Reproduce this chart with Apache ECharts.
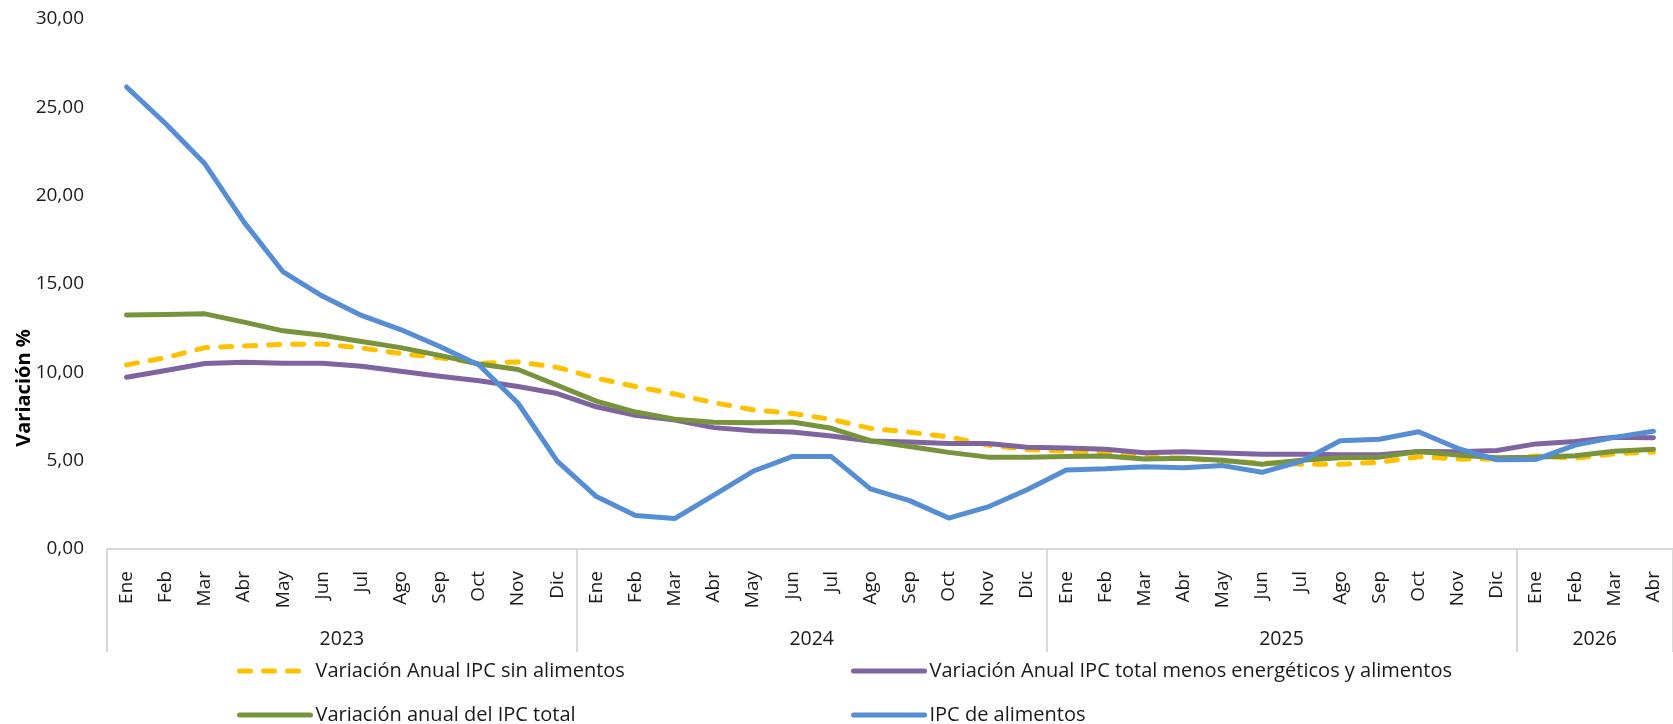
<!DOCTYPE html>
<html>
<head>
<meta charset="utf-8">
<script src="https://cdn.jsdelivr.net/npm/echarts@6/dist/echarts.min.js"></script>
<style>
html,body{margin:0;padding:0;background:#fff;}
#chart{width:1673px;height:724px;}
</style>
</head>
<body>
<div id="chart"></div>
<script>
// ---- data ----
const months = ['Ene','Feb','Mar','Abr','May','Jun','Jul','Ago','Sep','Oct','Nov','Dic',
  'Ene','Feb','Mar','Abr','May','Jun','Jul','Ago','Sep','Oct','Nov','Dic',
  'Ene','Feb','Mar','Abr','May','Jun','Jul','Ago','Sep','Oct','Nov','Dic',
  'Ene','Feb','Mar','Abr'];
const years = ['2023','2024','2025','2026'];
const monthsPerYear = [12, 12, 12, 4];
const yTicks = [0, 5, 10, 15, 20, 25, 30];

const seriesNames = [
  'Variación Anual IPC sin alimentos',
  'Variación Anual IPC total menos energéticos y alimentos',
  'Variación anual del IPC total',
  'IPC de alimentos'
];

const sinAlimentos = [10.42, 10.83, 11.40, 11.49, 11.59, 11.60, 11.38, 11.07, 10.83, 10.51, 10.59, 10.28,
  9.67, 9.20, 8.77, 8.28, 7.88, 7.67, 7.34, 6.83, 6.61, 6.35, 5.88, 5.63,
  5.53, 5.45, 5.20, 5.14, 4.96, 4.88, 4.80, 4.80, 4.91, 5.22, 5.10, 5.10,
  5.26, 5.14, 5.39, 5.49];
const menosEnergAlim = [9.72, 10.10, 10.50, 10.57, 10.52, 10.51, 10.34, 10.06, 9.78, 9.52, 9.20, 8.80,
  8.05, 7.57, 7.30, 6.87, 6.69, 6.62, 6.40, 6.11, 6.05, 5.97, 5.97, 5.76,
  5.72, 5.65, 5.45, 5.50, 5.44, 5.37, 5.37, 5.34, 5.34, 5.52, 5.50, 5.58,
  5.95, 6.08, 6.32, 6.30];
const ipcTotal = [13.24, 13.28, 13.31, 12.84, 12.35, 12.10, 11.75, 11.40, 10.96, 10.47, 10.16, 9.27,
  8.37, 7.75, 7.35, 7.17, 7.15, 7.19, 6.83, 6.13, 5.80, 5.47, 5.20, 5.20,
  5.23, 5.26, 5.10, 5.14, 5.02, 4.80, 5.02, 5.16, 5.20, 5.52, 5.32, 5.17,
  5.20, 5.28, 5.53, 5.65];
const ipcAlimentos = [26.15, 24.07, 21.80, 18.50, 15.68, 14.32, 13.22, 12.42, 11.46, 10.42, 8.25, 4.97,
  2.97, 1.89, 1.72, 3.05, 4.40, 5.23, 5.23, 3.40, 2.74, 1.75, 2.38, 3.35,
  4.47, 4.54, 4.66, 4.60, 4.72, 4.34, 4.96, 6.13, 6.21, 6.64, 5.70, 5.05,
  5.07, 5.88, 6.32, 6.67];

// ---- derived group positions ----
const boundaries = [0];
const centers = [];
monthsPerYear.forEach(function (n) {
  const start = boundaries[boundaries.length - 1];
  centers.push(start + n / 2);
  boundaries.push(start + n);
});
const totalMonths = boundaries[boundaries.length - 1];

const FONT = '"Open Sans", "Noto Sans", sans-serif';
const colors = ['#FFC000', '#8064A2', '#77933C', '#558ED5'];
const dataSets = [sinAlimentos, menosEnergAlim, ipcTotal, ipcAlimentos];

const chart = echarts.init(document.getElementById('chart'), null, {renderer: 'canvas'});

const series = dataSets.map(function (d, i) {
  return {
    name: seriesNames[i],
    type: 'line',
    data: d,
    xAxisIndex: 0,
    yAxisIndex: 0,
    symbol: 'none',
    smooth: false,
    z: 2 + i,
    lineStyle: {
      color: colors[i],
      width: 5,
      type: i === 0 ? [11, 13] : 'solid',
      cap: 'round',
      join: 'round'
    },
    itemStyle: {color: colors[i]},
    emphasis: {disabled: true}
  };
});

// legend slots: [series index, left, top]
const legendSlots = [[0, 237, 661], [1, 851, 661], [2, 237, 705], [3, 851, 705]];
const legends = legendSlots.map(function (s) {
  return {
    data: [seriesNames[s[0]]],
    orient: 'horizontal',
    left: s[1],
    top: s[2],
    padding: 0,
    itemWidth: 71,
    itemHeight: 14,
    selectedMode: false,
    itemStyle: {opacity: 0, borderWidth: 0},
    lineStyle: {width: 5, cap: 'round'},
    textStyle: {fontSize: 20, color: '#1a1a1a', fontFamily: FONT}
  };
});

const option = {
  animation: false,
  backgroundColor: '#fff',
  textStyle: {fontFamily: FONT},
  grid: {left: 107, right: 0, top: 19, bottom: 175, containLabel: false},
  xAxis: [
    {
      type: 'category',
      data: months,
      boundaryGap: true,
      position: 'bottom',
      offset: 0,
      axisLine: {show: true, lineStyle: {color: '#d9d9d9', width: 2}},
      axisTick: {show: false},
      axisLabel: {
        interval: 0,
        rotate: 90,
        margin: 22,
        fontSize: 19,
        color: '#1a1a1a',
        fontFamily: FONT
      },
      splitLine: {show: false}
    },
    {
      type: 'value',
      min: 0,
      max: totalMonths,
      position: 'bottom',
      offset: 0,
      axisLine: {show: false},
      axisTick: {
        show: true,
        customValues: boundaries,
        length: 103,
        lineStyle: {color: '#d9d9d9', width: 2}
      },
      axisLabel: {
        show: true,
        customValues: centers,
        margin: 80,
        fontSize: 19.5,
        color: '#1a1a1a',
        fontFamily: FONT,
        formatter: function (v) {
          const idx = centers.indexOf(v);
          return idx >= 0 ? years[idx] : '';
        }
      },
      splitLine: {show: false}
    }
  ],
  yAxis: {
    type: 'value',
    min: yTicks[0],
    max: yTicks[yTicks.length - 1],
    interval: yTicks[1] - yTicks[0],
    axisLine: {show: false},
    axisTick: {show: false},
    splitLine: {show: false},
    axisLabel: {
      margin: 23,
      fontSize: 19,
      color: '#1a1a1a',
      fontFamily: FONT,
      formatter: function (v) { return v.toFixed(2).replace('.', ','); }
    }
  },
  legend: legends,
  graphic: [
    {
      type: 'text',
      x: 24,
      y: 388,
      rotation: Math.PI / 2,
      style: {
        text: 'Variación %',
        font: 'bold 20px ' + FONT,
        fill: '#000',
        textAlign: 'center',
        textVerticalAlign: 'middle'
      }
    }
  ],
  series: series
};

chart.setOption(option);
</script>
</body>
</html>
